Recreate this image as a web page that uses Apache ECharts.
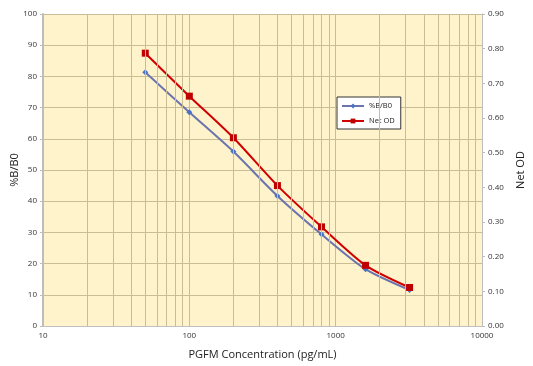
<!DOCTYPE html>
<html><head><meta charset="utf-8">
<script src="https://cdn.jsdelivr.net/npm/echarts@6/dist/echarts.min.js"></script>
<style>html,body{margin:0;padding:0;background:#fff}#c{width:533px;height:366px}</style>
</head><body><div id="c"></div>
<script>
const concentrations = [50, 100, 200, 400, 800, 1600, 3200];
const pctB = [81.3, 68.5, 55.9, 41.7, 29.4, 18.2, 11.5];
const netOD = [0.787, 0.663, 0.543, 0.405, 0.286, 0.175, 0.111];
const minorX = [20,30,40,50,60,70,80,90,200,300,400,500,600,700,800,900,2000,3000,4000,5000,6000,7000,8000,9000];
const font = '"Open Sans", "Noto Sans", sans-serif';
const gridColor = '#C9BD95';

const chart = echarts.init(document.getElementById('c'));
chart.setOption({
  animation: false,
  textStyle: {fontFamily: font},
  grid: {left: 43, right: 51, top: 14, bottom: 40, show: true, backgroundColor: '#FFF3CB', borderWidth: 0,
         containLabel: false, outerBoundsMode: 'none'},
  legend: {
    orient: 'vertical', left: 337, top: 97,
    backgroundColor: '#fff', borderColor: '#333', borderWidth: 1,
    padding: [5, 6, 4, 4], itemGap: 7, itemWidth: 22, itemHeight: 6,
    textStyle: {fontSize: 7.5, color: '#222', fontFamily: font},
    data: ['%B/B0', 'Net OD']
  },
  xAxis: {
    type: 'log', logBase: 10, min: 10, max: 10000,
    name: 'PGFM Concentration (pg/mL)', nameLocation: 'middle', nameGap: 23,
    nameTextStyle: {fontSize: 11, color: '#222'},
    axisLine: {show: true, lineStyle: {color: '#C0C0C0', width: 1}},
    axisTick: {show: false},
    axisLabel: {fontSize: 8, color: '#333', margin: 6, formatter: v => String(Math.round(v))},
    splitLine: {show: true, lineStyle: {color: gridColor, width: 1}}
  },
  yAxis: [{
    type: 'value', min: 0, max: 100, interval: 10,
    name: '%B/B0', nameLocation: 'middle', nameGap: 23, nameRotate: 90, nameMoveOverlap: false,
    nameTextStyle: {fontSize: 11, color: '#222'},
    axisLine: {show: true, lineStyle: {color: '#BDBDBD', width: 2}},
    axisTick: {show: true, length: 3, lineStyle: {color: '#BDBDBD'}},
    axisLabel: {fontSize: 8, color: '#333', margin: 6},
    splitLine: {show: true, lineStyle: {color: gridColor, width: 1}}
  }, {
    type: 'value', min: 0, max: 0.9, interval: 0.1, position: 'right',
    name: 'Net OD', nameLocation: 'middle', nameGap: 33, nameRotate: 90,
    nameTextStyle: {fontSize: 11, color: '#222'},
    axisLine: {show: true, lineStyle: {color: '#BDBDBD', width: 1}},
    axisTick: {show: true, length: 3, lineStyle: {color: '#BDBDBD'}},
    axisLabel: {fontSize: 8, color: '#333', margin: 6, formatter: v => v.toFixed(2)},
    splitLine: {show: false}
  }],
  series: [{
    name: 'grid', type: 'line', data: [], silent: true,
    markLine: {
      silent: true, symbol: 'none', label: {show: false},
      lineStyle: {color: gridColor, width: 1, type: 'solid'},
      data: minorX.map(v => ({xAxis: v}))
    }
  }, {
    name: '%B/B0', type: 'line', yAxisIndex: 0, smooth: 0.25,
    data: concentrations.map((c, i) => [c, pctB[i]]),
    symbol: 'diamond', symbolSize: 6,
    itemStyle: {color: '#4A72C4', borderWidth: 0},
    lineStyle: {color: '#6B74AE', width: 2}
  }, {
    name: 'Net OD', type: 'line', yAxisIndex: 1, smooth: 0.25,
    data: concentrations.map((c, i) => [c, netOD[i]]),
    symbol: 'rect', symbolSize: 7,
    itemStyle: {color: '#C00000', borderWidth: 0},
    lineStyle: {color: '#D00000', width: 2}
  }]
});
</script></body></html>
